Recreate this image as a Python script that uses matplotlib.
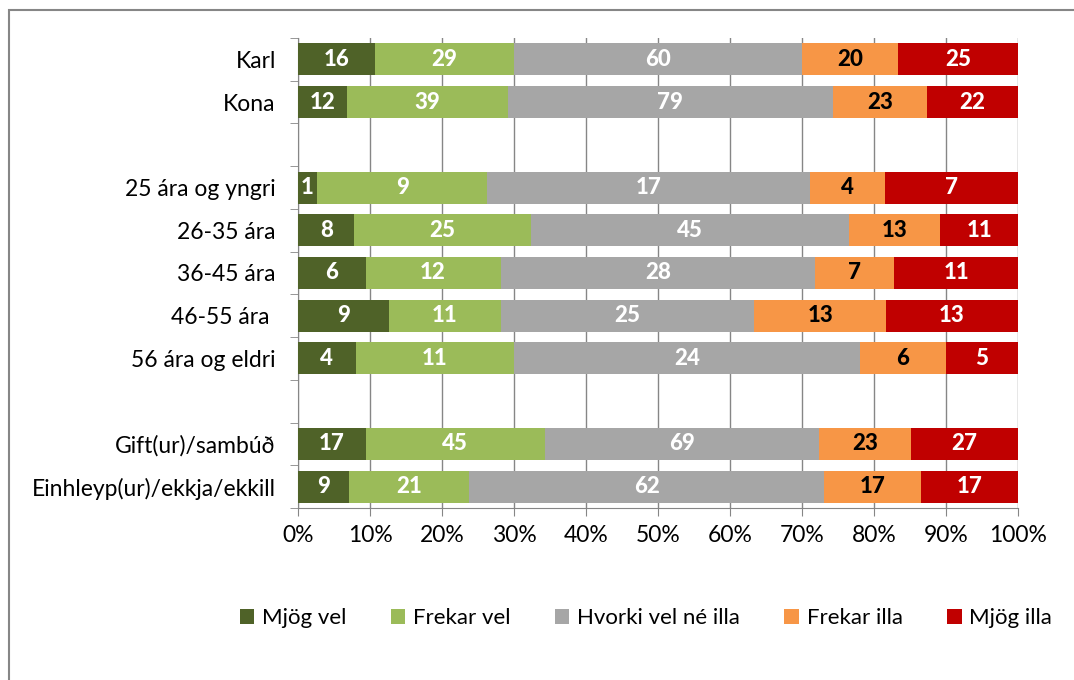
import matplotlib.pyplot as plt
import numpy as np
from matplotlib.patches import Rectangle

plt.rcParams['font.family'] = ['Lato', 'DejaVu Sans']

groups = ['Karl', 'Kona', '', '25 ára og yngri', '26-35 ára', '36-45 ára',
          '46-55 ára ', '56 ára og eldri', '', 'Gift(ur)/sambúð',
          'Einhleyp(ur)/ekkja/ekkill']
series = ['Mjög vel', 'Frekar vel', 'Hvorki vel né illa', 'Frekar illa', 'Mjög illa']
mjog_vel = [16, 12, 0, 1, 8, 6, 9, 4, 0, 17, 9]
frekar_vel = [29, 39, 0, 9, 25, 12, 11, 11, 0, 45, 21]
hvorki = [60, 79, 0, 17, 45, 28, 25, 24, 0, 69, 62]
frekar_illa = [20, 23, 0, 4, 13, 7, 13, 6, 0, 23, 17]
mjog_illa = [25, 22, 0, 7, 11, 11, 13, 5, 0, 27, 17]

colors = ['#4f6228', '#9bbb59', '#a6a6a6', '#f79646', '#c00000']
text_colors = ['white', 'white', 'white', 'black', 'white']

counts = np.array([mjog_vel, frekar_vel, hvorki, frekar_illa, mjog_illa], dtype=float)
totals = counts.sum(axis=0)
totals[totals == 0] = 1
shares = counts / totals

fig = plt.figure(figsize=(10.74, 6.8), dpi=100)
ax = fig.add_axes([298 / 1074, 1 - 508 / 680, 720 / 1074, 470 / 680])

y = np.arange(len(groups))
left = np.zeros(len(groups))
for i, name in enumerate(series):
    ax.barh(y, shares[i], left=left, height=0.75, color=colors[i], label=name, zorder=3)
    for j in range(len(groups)):
        if counts[i, j] > 0:
            ax.text(left[j] + shares[i, j] / 2, y[j], f'{int(counts[i, j])}',
                    ha='center', va='center', color=text_colors[i],
                    fontsize=16, fontweight='black', zorder=4)
    left += shares[i]

ax.set_xlim(0, 1)
ax.set_ylim(len(groups) - 0.5, -0.5)
ax.set_xticks(np.arange(0, 1.01, 0.1))
ax.set_xticklabels([f'{int(round(v * 100))}%' for v in np.arange(0, 1.01, 0.1)], fontsize=16.5)
ax.set_yticks(y)
ax.set_yticklabels(groups, fontsize=16.5)
ax.set_yticks(np.arange(-0.5, len(groups)), minor=True)
ax.tick_params(axis='y', which='major', length=0, pad=16)
ax.tick_params(axis='y', which='minor', length=6, color='#868686')
ax.tick_params(axis='x', length=6, color='#868686', pad=6)
ax.grid(axis='x', color='#868686', linewidth=1, zorder=0)
for side in ['top', 'right']:
    ax.spines[side].set_visible(False)
for side in ['left', 'bottom']:
    ax.spines[side].set_color('#868686')

ax.legend(loc='center', bbox_to_anchor=(646 / 1074, 1 - 618 / 680), bbox_transform=fig.transFigure,
          ncol=5, frameon=False, fontsize=16, handlelength=0.65, handleheight=0.65,
          handletextpad=0.35, columnspacing=2.0)

# chart area frame, only its top and left edges fall inside the image
fig.patches.append(Rectangle((9 / 1074, -0.1), 1.2, 1.1 - 10 / 680,
                             transform=fig.transFigure, fill=False,
                             edgecolor='#868686', linewidth=1.5))

fig.savefig('out.png', dpi=100)
